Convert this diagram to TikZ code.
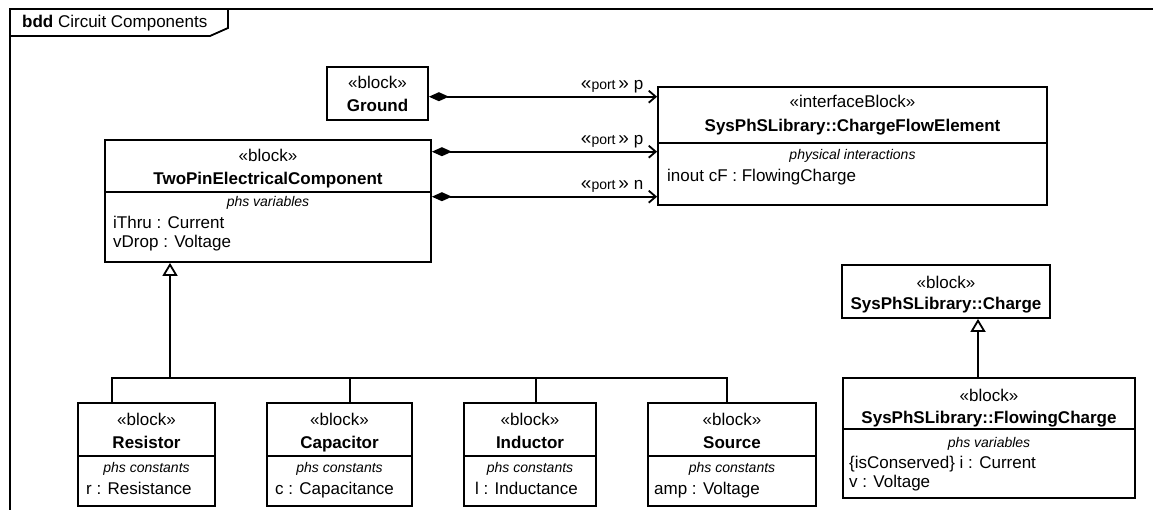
\documentclass[tikz,border=0pt]{standalone}
\usepackage{fontspec}
\setmainfont{Liberation Sans}
\usetikzlibrary{arrows.meta}

\tikzset{
  blockbox/.style={draw, line width=1.8pt, inner sep=0pt},
  stereo/.style={anchor=base, inner sep=0pt},
  blockname/.style={anchor=base, inner sep=0pt, font=\fontsize{17}{20}\selectfont\bfseries},
  compname/.style={anchor=base, inner sep=0pt, font=\fontsize{14}{16}\selectfont\itshape},
  attr/.style={anchor=base west, inner sep=0pt},
  sepline/.style={line width=1.5pt},
  treeline/.style={line width=1.8pt},
  portlink/.style={line width=1.8pt, {Diamond[length=20pt,width=9pt]}-{Straight Barb[length=7pt,width=12pt]}},
  genlink/.style={line width=1.8pt, -{Triangle[open,length=13pt,width=15pt,fill=white]}},
  portlbl/.style={pos=1, anchor=base east, inner sep=0pt, xshift=-13pt, yshift=7pt}
}
\newcommand{\portname}[1]{{\fontsize{19}{20}\selectfont«}{\fontsize{14}{16}\selectfont port}\,{\fontsize{19}{20}\selectfont»} #1}

\begin{document}
\begin{tikzpicture}[x=1pt, y=-1pt, font=\fontsize{17}{20}\selectfont]
    \useasboundingbox (0,0) rectangle (1153,510);

    % Frame and name tab
    \draw[line width=1.8pt] (1153,9) -- (10,9) -- (10,510);
    \draw[line width=1.8pt] (10,36) -- (210,36) -- (228,28) -- (228,9);
    \node[attr] (title) at (22,28) {\textbf{bdd} Circuit Components};

    % Ground
    \node[blockbox, minimum width=101pt, minimum height=53pt] (ground) at (377.5,93.5) {};
    \node[stereo] at (377.5,89) {«block»};
    \node[blockname] at (377.5,112) {Ground};

    % ChargeFlowElement
    \node[blockbox, minimum width=389pt, minimum height=118pt] (cfe) at (852.5,146) {};
    \node[stereo] at (852.5,108) {«interfaceBlock»};
    \node[blockname] at (852.5,132) {SysPhSLibrary::ChargeFlowElement};
    \draw[sepline] (cfe.west |- 0,143) -- (cfe.east |- 0,143);
    \node[compname] at (852.5,160) {physical interactions};
    \node[attr] at (667,182) {inout cF : FlowingCharge};

    % TwoPinElectricalComponent
    \node[blockbox, minimum width=326pt, minimum height=122pt] (tpec) at (268,201) {};
    \node[stereo] at (268,162) {«block»};
    \node[blockname] at (268,185) {TwoPinElectricalComponent};
    \draw[sepline] (tpec.west |- 0,192) -- (tpec.east |- 0,192);
    \node[compname] at (268,207) {phs variables};
    \node[attr] at (113,229) {iThru : Current};
    \node[attr] at (113,248) {vDrop : Voltage};

    % Port connections
    \coordinate (gp) at ([yshift=-3.2pt]ground.east);
    \coordinate (tp) at ([yshift=49.3pt]tpec.east);
    \coordinate (tn) at ([yshift=4.3pt]tpec.east);
    \draw[portlink] (gp) -- (gp -| cfe.west) node[portlbl] {\portname{p}};
    \draw[portlink] (tp) -- (tp -| cfe.west) node[portlbl] {\portname{p}};
    \draw[portlink] (tn) -- (tn -| cfe.west) node[portlbl] {\portname{n}};

    % Resistor
    \node[blockbox, minimum width=137pt, minimum height=103pt] (res) at (146.5,454.5) {};
    \node[stereo] at (146.5,425) {«block»};
    \node[blockname] at (146.5,448) {Resistor};
    \draw[sepline] (res.west |- 0,456) -- (res.east |- 0,456);
    \node[compname] at (146.5,472) {phs constants};
    \node[attr] at (86,494) {r : Resistance};

    % Capacitor
    \node[blockbox, minimum width=145pt, minimum height=103pt] (cap) at (339.5,454.5) {};
    \node[stereo] at (339.5,425) {«block»};
    \node[blockname] at (339.5,448) {Capacitor};
    \draw[sepline] (cap.west |- 0,456) -- (cap.east |- 0,456);
    \node[compname] at (339.5,472) {phs constants};
    \node[attr] at (275,494) {c : Capacitance};

    % Inductor
    \node[blockbox, minimum width=132pt, minimum height=103pt] (ind) at (530,454.5) {};
    \node[stereo] at (530,425) {«block»};
    \node[blockname] at (530,448) {Inductor};
    \draw[sepline] (ind.west |- 0,456) -- (ind.east |- 0,456);
    \node[compname] at (530,472) {phs constants};
    \node[attr] at (475,494) {l : Inductance};

    % Source
    \node[blockbox, minimum width=168pt, minimum height=103pt] (src) at (732,454.5) {};
    \node[stereo] at (732,425) {«block»};
    \node[blockname] at (732,448) {Source};
    \draw[sepline] (src.west |- 0,456) -- (src.east |- 0,456);
    \node[compname] at (732,472) {phs constants};
    \node[attr] at (654,494) {amp : Voltage};

    % Generalization tree
    \coordinate (tj) at (170,378);
    \coordinate (dres) at (112,378);
    \coordinate (dcap) at (350,378);
    \coordinate (dind) at (536,378);
    \coordinate (dsrc) at (727,378);
    \draw[treeline] (dres |- res.north) -- (dres) -- (dsrc) -- (dsrc |- src.north);
    \draw[treeline] (dcap) -- (dcap |- cap.north);
    \draw[treeline] (dind) -- (dind |- ind.north);
    \draw[genlink] (tj) -- (tj |- tpec.south);

    % Charge
    \node[blockbox, minimum width=208pt, minimum height=53pt] (chg) at (946,291.5) {};
    \node[stereo] at (946,289) {«block»};
    \node[blockname] at (946,309) {SysPhSLibrary::Charge};

    % FlowingCharge
    \node[blockbox, minimum width=292pt, minimum height=120pt] (fc) at (989,438) {};
    \node[stereo] at (989,401) {«block»};
    \node[blockname] at (989,423) {SysPhSLibrary::FlowingCharge};
    \draw[sepline] (fc.west |- 0,429) -- (fc.east |- 0,429);
    \node[compname] at (989,447) {phs variables};
    \node[attr] at (849,468) {\{isConserved\}\ i : Current};
    \node[attr] at (849,487) {v : Voltage};

    \coordinate (cj) at (978,378);
    \draw[genlink] (cj |- fc.north) -- (cj |- chg.south);
\end{tikzpicture}
\end{document}
